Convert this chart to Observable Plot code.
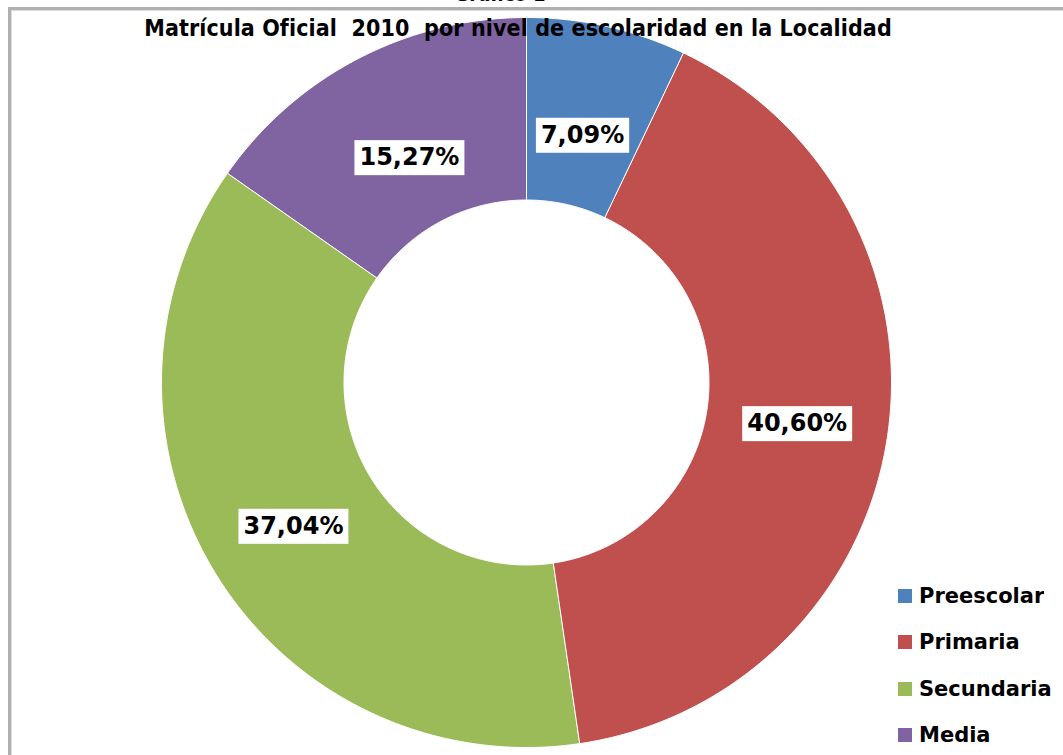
<!DOCTYPE html>
<html><head><meta charset="utf-8">
<script src="https://cdn.jsdelivr.net/npm/d3@7"></script>
<script src="https://cdn.jsdelivr.net/npm/@observablehq/plot@0.6"></script>
<style>
html,body{margin:0;padding:0;background:#fff}
body{width:1063px;height:755px;overflow:hidden;position:relative;font-family:"DejaVu Sans",sans-serif}
#frame{position:absolute;left:8px;top:7px;width:1100px;height:800px;border-left:3px solid #b0b0b0;border-top:3px solid #b0b0b0;box-shadow:inset 1px 1px 0 #dcdcdc}
#sup{position:absolute;top:-18px;left:0;width:1000px;text-align:center;font:bold 20px "DejaVu Sans Condensed","DejaVu Sans",sans-serif;color:#000}
#title{position:absolute;top:15px;left:0;width:1036px;text-align:center;font:bold 23px "DejaVu Sans Condensed",sans-serif;color:#000;white-space:nowrap;z-index:2;letter-spacing:0.1px}
#chart{position:absolute;left:0;top:0;z-index:1}
#legend{position:absolute;left:898px;top:573px;z-index:2}
.leg-swatch{height:45.5px}
.leg-swatch > svg{margin-right:7px !important}
.leg-swatch-label{font:bold 21px "DejaVu Sans",sans-serif;color:#000}
</style>
</head><body>
<div id="sup">Gráfico 1</div>
<div id="frame"></div>
<div id="title">Matrícula Oficial&nbsp; 2010&nbsp; por nivel de escolaridad en la Localidad</div>
<div id="chart"></div>
<div id="legend"></div>
<script>
const categories = ["Preescolar", "Primaria", "Secundaria", "Media"];
const values = [7.09, 40.60, 37.04, 15.27];
const colors = ["#4F81BD", "#C0504D", "#9BBB59", "#8064A2"];

const W = 1063, H = 755;
const cx = 526, cy = 382, R = 365, inner = 0.5;

const arcs = d3.pie().sort(null).value(d => d)(values);

// polygon outline of each donut slice, in unit-circle coordinates
const ring = [];
arcs.forEach((a, i) => {
  const n = Math.max(8, Math.ceil((a.endAngle - a.startAngle) / (Math.PI / 360)));
  for (let k = 0; k <= n; k++) {
    const t = a.startAngle + (a.endAngle - a.startAngle) * k / n;
    ring.push({cat: categories[i], x: Math.sin(t), y: Math.cos(t)});
  }
  for (let k = n; k >= 0; k--) {
    const t = a.startAngle + (a.endAngle - a.startAngle) * k / n;
    ring.push({cat: categories[i], x: inner * Math.sin(t), y: inner * Math.cos(t)});
  }
});

const labels = arcs.map((a, i) => {
  const m = (a.startAngle + a.endAngle) / 2;
  const r = values[i] > 20 ? 0.75 : 0.695;
  return {x: r * Math.sin(m), y: r * Math.cos(m), text: values[i].toFixed(2).replace(".", ",") + "%"};
});

const chart = Plot.plot({
  width: W, height: H,
  margin: 0,
  x: {domain: [-1, 1], range: [cx - R, cx + R], axis: null},
  y: {domain: [-1, 1], range: [cy + R, cy - R], axis: null},
  color: {domain: categories, range: colors},
  style: {background: "transparent", overflow: "visible"},
  marks: [
    Plot.line(ring, {x: "x", y: "y", z: "cat", fill: "cat", stroke: "white", strokeWidth: 1, curve: "linear-closed"}),
    Plot.text(labels, {x: "x", y: "y", text: "text", fontSize: 24, fontWeight: "bold", fontFamily: "DejaVu Sans", fill: "black"})
  ]
});
document.getElementById("chart").appendChild(chart);

// white boxes behind the data labels
d3.select(chart).selectAll('g[aria-label="text"] text').each(function() {
  const b = this.getBBox();
  const rect = d3.select(this.parentNode).insert("rect", () => this)
    .attr("x", b.x - 5).attr("y", b.y - 3)
    .attr("width", b.width + 10).attr("height", b.height + 7)
    .attr("fill", "white");
  const tr = this.getAttribute("transform");
  if (tr) rect.attr("transform", tr);
});

const leg = chart.legend("color", {legend: "swatches", columns: 1, swatchSize: 14, className: "leg"});
document.getElementById("legend").appendChild(leg);
</script>
</body></html>
